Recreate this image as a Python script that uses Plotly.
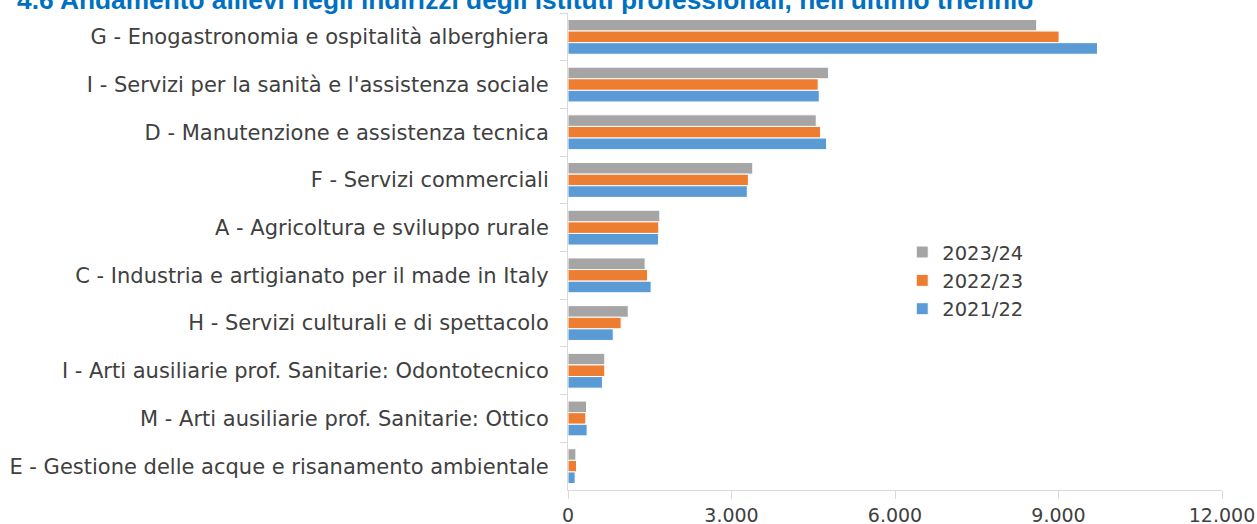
import plotly.graph_objects as go

categories = [
    "G - Enogastronomia e ospitalità alberghiera",
    "I - Servizi per la sanità e l'assistenza sociale",
    "D - Manutenzione e assistenza tecnica",
    "F - Servizi commerciali",
    "A - Agricoltura e sviluppo rurale",
    "C - Industria e artigianato per il made in Italy",
    "H - Servizi culturali e di spettacolo",
    "I - Arti ausiliarie prof. Sanitarie: Odontotecnico",
    "M - Arti ausiliarie prof. Sanitarie: Ottico",
    "E - Gestione delle acque e risanamento ambientale",
]
series_names = ["2023/24", "2022/23", "2021/22"]
v_2023_24 = [8600, 4780, 4555, 3390, 1685, 1415, 1105, 675, 340, 145]
v_2022_23 = [9010, 4590, 4635, 3310, 1665, 1460, 975, 675, 327, 156]
v_2021_22 = [9715, 4610, 4745, 3290, 1660, 1525, 830, 632, 351, 131]
colors = ["#A5A5A5", "#ED7D31", "#5B9BD5"]
x_ticks = [0, 3000, 6000, 9000, 12000]
title_text = "4.6 Andamento allievi negli indirizzi degli istituti professionali, nell'ultimo triennio"

FONT = "DejaVu Sans"
TXT = "#404040"

L, R, T, B = 567.5, 35, 13.3, 34
PW = 1257 - L - R
PH = 524 - T - B

fig = go.Figure()
for name, vals, col in zip(series_names, [v_2023_24, v_2022_23, v_2021_22], colors):
    fig.add_trace(go.Bar(
        y=categories, x=vals, name=name, orientation="h",
        marker=dict(color=col, line=dict(color="white", width=1)),
    ))

fig.update_layout(
    barmode="group",
    bargap=0.27,
    bargroupgap=0,
    width=1257, height=524,
    margin=dict(l=L, r=R, t=T, b=B, autoexpand=False),
    plot_bgcolor="white", paper_bgcolor="white",
    separators=",.",
    font=dict(family=FONT, size=21, color=TXT),
    legend=dict(
        x=(902 - L) / PW, y=(524 - B - 233) / PH, xanchor="left", yanchor="top",
        font=dict(family=FONT, size=19.5, color=TXT),
        traceorder="normal", bgcolor="rgba(0,0,0,0)",
        itemwidth=30, tracegroupgap=0,
    ),
    annotations=[dict(
        text=title_text, xref="paper", yref="paper",
        x=(14 - L) / PW, y=1, xanchor="left", yanchor="middle",
        yshift=13.5, showarrow=False,
        font=dict(family="Liberation Sans", size=26.3, color="#0070C0", weight="bold"),
    )],
)
fig.update_yaxes(
    autorange="reversed", type="category", automargin=False,
    showline=True, linecolor="#D9D9D9", linewidth=1,
    ticks="outside", ticklen=7, tickcolor="#D9D9D9",
    tickson="boundaries", ticklabelstandoff=14,
    showgrid=False,
)
fig.update_xaxes(
    range=[0, 12000], tickvals=x_ticks, tickformat=",d", automargin=False,
    showline=True, linecolor="#D9D9D9", linewidth=1,
    ticks="outside", ticklen=8, tickcolor="#D9D9D9",
    tickfont=dict(size=19), ticklabelstandoff=0, ticklabeloverflow="allow",
    showgrid=False, zeroline=False,
)
fig.write_html("out.html", config={"displayModeBar": False},
               post_script="document.body.style.margin='0px';")
